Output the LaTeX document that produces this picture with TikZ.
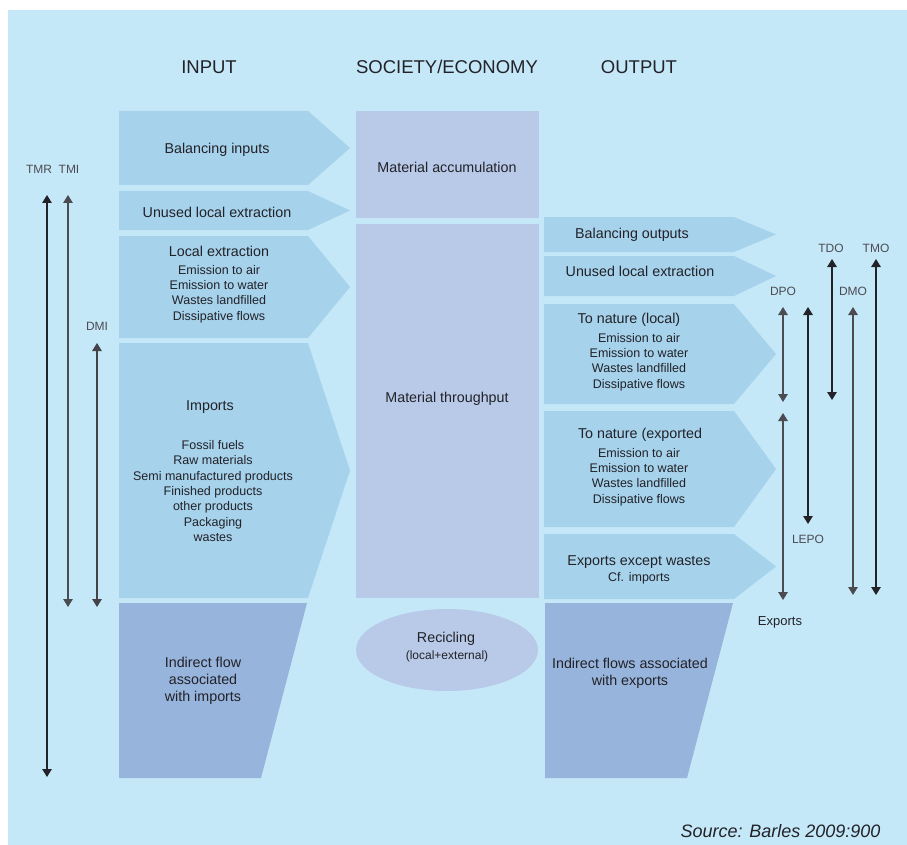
\documentclass[tikz,border=0pt]{standalone}
\usepackage{fontspec}
\setmainfont{Liberation Sans}
\usetikzlibrary{arrows.meta, shapes.geometric, positioning}
\definecolor{panelbg}{RGB}{197,232,248}
\definecolor{flowblue}{RGB}{166,210,235}
\definecolor{socblue}{RGB}{184,202,232}
\definecolor{indblue}{RGB}{151,180,220}
\definecolor{inkgray}{RGB}{34,34,40}
\definecolor{lightink}{RGB}{75,75,82}

\tikzset{
  head/.style={font=\fontsize{18.5}{22}\selectfont, text=inkgray},
  title/.style={font=\fontsize{14.3}{17}\selectfont, text=inkgray, align=center},
  sub/.style={font=\fontsize{12.5}{15.3}\selectfont, text=inkgray, align=center},
  tag/.style={font=\fontsize{12}{14}\selectfont, text=lightink},
  mfa/.style={line width=1.3pt,
    {Triangle[width=9.5pt,length=8pt]}-{Triangle[width=9.5pt,length=8pt]}},
}

\begin{document}
\begin{tikzpicture}[x=1pt, y=-1pt]
  \useasboundingbox (0,0) rectangle (907,845);
  \fill[panelbg] (8,10) rectangle (907,845);

  % column heads
  \node[head] (inhead)  at (209,67) {INPUT};
  \node[head] (sochead) at (447,67) {SOCIETY/ECONOMY};
  \node[head] (outhead) at (639,67) {OUTPUT};

  % input flows
  \foreach \top/\bot in {111/185, 191/230, 236/338, 343/598} {
    \fill[flowblue] (119,\top) -- (308,\top) -- (350,{(\top+\bot)/2})
      -- (308,\bot) -- (119,\bot) -- cycle;
  }
  \fill[indblue] (119,603) -- (307,603) -- (261,778) -- (119,778) -- cycle;

  \node[title] (balin)    at (217,150) {Balancing inputs};
  \node[title] (unusedin) at (217,212) {Unused local extraction};
  \node[title] (locex)    at (219,251) {Local extraction};
  \node[sub]   (locexsub) at (219,294) {Emission to air\\Emission to water\\
    Wastes landfilled\\Dissipative flows};
  \node[title] (imports)  at (210,407) {Imports};
  \node[sub]   (impsub)   at (213,491) {Fossil fuels\\Raw materials\\
    Semi manufactured products\\Finished products\\other products\\
    Packaging\\wastes};
  \node[title] (indin)    at (203,681) {Indirect flow\\associated\\with imports};

  % society / economy
  \fill[socblue] (356,111) rectangle (539,218);
  \fill[socblue] (356,224) rectangle (539,598);
  \node[title] (accum)  at (447,167) {Material accumulation};
  \node[title] (thru)   at (447,399) {Material throughput};
  \node[ellipse, fill=socblue, minimum width=182pt, minimum height=82pt]
    (recyc) at (447,650) {};
  \node[title] (recname) at (446,639) {Recicling};
  \node[sub, font=\fontsize{12}{14}\selectfont] (recsub) at (447,656)
    {(local+external)};

  % output flows
  \foreach \top/\bot in {217/252, 256/296, 304/404, 411/527, 534/599} {
    \fill[flowblue] (544,\top) -- (734,\top) -- (776,{(\top+\bot)/2})
      -- (734,\bot) -- (544,\bot) -- cycle;
  }
  \fill[indblue] (545,603) -- (733,603) -- (687,778) -- (545,778) -- cycle;

  \node[title] (balout)    at (632,235) {Balancing outputs};
  \node[title] (unusedout) at (640,271) {Unused local extraction};
  \node[title] (natloc)    at (629,320) {To nature (local)};
  \node[sub]   (natlocsub) at (639,362) {Emission to air\\Emission to water\\
    Wastes landfilled\\Dissipative flows};
  \node[title] (natexp)    at (640,435) {To nature (exported};
  \node[sub]   (natexpsub) at (639,477) {Emission to air\\Emission to water\\
    Wastes landfilled\\Dissipative flows};
  \node[title] (expw)      at (639,562) {Exports except wastes};
  \node[sub]   (expwsub)   at (639,578) {Cf. imports};
  \node[title] (indout)    at (630,673) {Indirect flows associated\\with exports};

  % indicator labels
  \node[tag] (tmr)  at (39,169)  {TMR};
  \node[tag] (tmi)  at (69,169)  {TMI};
  \node[tag] (dmi)  at (97,326)  {DMI};
  \node[tag] (dpo)  at (783,291) {DPO};
  \node[tag] (tdo)  at (831,248) {TDO};
  \node[tag] (dmo)  at (853,291) {DMO};
  \node[tag] (tmo)  at (876,248) {TMO};
  \node[tag] (lepo) at (808,539) {LEPO};
  \node[title, font=\fontsize{13}{15}\selectfont] (exps) at (780,622) {Exports};

  % indicator ranges
  \foreach \n/\x/\ya/\yb/\c in {tmr/47/195/777/inkgray, tmi/68/195/607/lightink,
      dmi/97/343/607/inkgray!85, dpo/783/307/402/lightink,
      exps/783/413/600/lightink, lepo/808/307/524/inkgray,
      tdo/832/259/400/inkgray, dmo/853/307/595/lightink,
      tmo/876/259/595/inkgray} {
    \coordinate (\n-a) at (\x,\ya);
    \coordinate (\n-b) at (\x,\yb);
    \draw[mfa, \c] (\n-a) -- (\n-b);
  }

  \node[anchor=east, text=inkgray, font=\fontsize{18}{21}\selectfont\itshape]
    (src) at (884,831) {Source: Barles 2009:900};
\end{tikzpicture}
\end{document}
